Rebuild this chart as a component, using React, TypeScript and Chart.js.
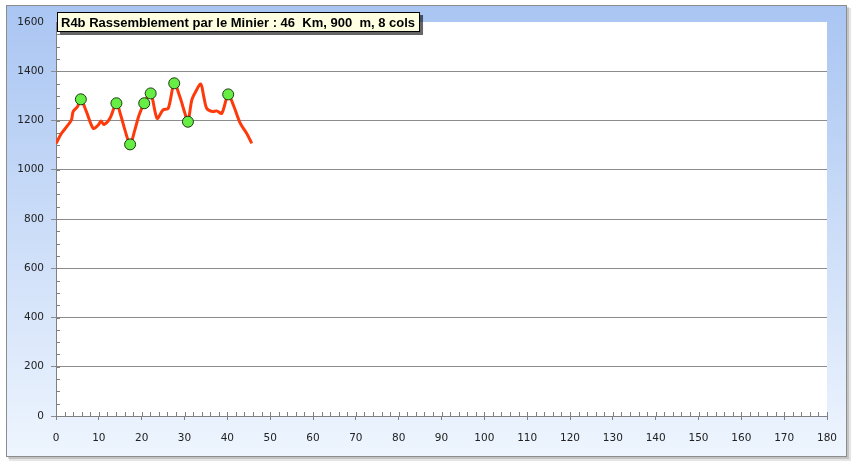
import React, { useEffect, useRef } from "react";
import { Chart, registerables } from "chart.js";
Chart.register(...registerables);

const W = 856;
const H = 467;

const titleText = "R4b Rassemblement par le Minier : 46  Km, 900  m, 8 cols";

const distances = [0, 1.3, 2.5, 3.6, 4.0, 5.0, 5.8, 7.1, 8.7, 9.9, 10.5, 11.2, 12.6, 14.1, 15.2, 16.1, 17.3, 18.4, 19.4, 20.6, 22.1, 23.6, 25.0, 26.2, 27.6, 28.9, 30.1, 30.8, 31.7, 32.6, 33.8, 34.5, 35.2, 36.6, 37.5, 38.7, 40.2, 41.4, 43.0, 44.5, 45.7];
const elevations = [1107, 1148, 1175, 1202, 1236, 1256, 1286, 1236, 1168, 1182, 1198, 1184, 1209, 1270, 1216, 1161, 1103, 1161, 1222, 1270, 1310, 1209, 1243, 1249, 1351, 1297, 1229, 1195, 1283, 1317, 1348, 1297, 1249, 1236, 1239, 1229, 1306, 1263, 1189, 1148, 1107];

const colDistances = [5.8, 14.1, 17.3, 20.6, 22.1, 27.6, 30.8, 40.2];
const colElevations = [1286, 1270, 1103, 1270, 1310, 1351, 1195, 1306];

const xMin = 0, xMax = 180, xStep = 10, xMinorStep = 2;
const yMin = 0, yMax = 1600, yStep = 200, yMinorStep = 50;

export default function App() {
  const ref = useRef<HTMLCanvasElement>(null);
  useEffect(() => {
    const canvas = ref.current;
    if (!canvas) return;

    const decor = {
      id: "decor",
      beforeDraw(chart: any) {
        const { ctx, chartArea: a } = chart;
        ctx.save();
        ctx.fillStyle = "#ffffff";
        ctx.fillRect(0, 0, W, H);
        ctx.fillStyle = "rgba(0,0,0,0.10)";
        ctx.fillRect(9, 8, 842, 453);
        ctx.fillStyle = "rgba(0,0,0,0.15)";
        ctx.fillRect(8, 7, 841, 452);
        const g = ctx.createLinearGradient(0, 5, 0, 457);
        g.addColorStop(0, "#a9c5f2");
        g.addColorStop(1, "#eef5fe");
        ctx.fillStyle = g;
        ctx.fillRect(6, 5, 841, 452);
        ctx.strokeStyle = "#8c8c8c";
        ctx.lineWidth = 1;
        ctx.strokeRect(6.5, 5.5, 840, 451);
        ctx.fillStyle = "#ffffff";
        ctx.fillRect(a.left, a.top, a.right - a.left, a.bottom - a.top);
        ctx.restore();
      },
      beforeDatasetsDraw(chart: any) {
        const { ctx, chartArea: a, scales } = chart;
        ctx.save();
        ctx.strokeStyle = "#808080";
        ctx.lineWidth = 1;
        ctx.beginPath();
        for (let v = yMin; v <= yMax; v += yMinorStep) {
          const y = Math.round(scales.y.getPixelForValue(v)) + 0.5;
          ctx.moveTo(a.left, y);
          ctx.lineTo(a.left + 4, y);
        }
        for (let v = xMin; v <= xMax; v += xMinorStep) {
          const x = Math.round(scales.x.getPixelForValue(v)) + 0.5;
          ctx.moveTo(x, a.bottom);
          ctx.lineTo(x, a.bottom - 4);
        }
        ctx.stroke();
        ctx.restore();
      },
      afterDraw(chart: any) {
        const { ctx } = chart;
        ctx.save();
        ctx.font = "bold 13px 'Liberation Sans', Arial, sans-serif";
        const tw = ctx.measureText(titleText).width;
        const bx = 57, by = 12, bw = tw + 9, bh = 20;
        ctx.fillStyle = "rgba(0,0,0,0.6)";
        ctx.fillRect(bx + 3, by + 3, bw, bh);
        ctx.fillStyle = "#ffffe1";
        ctx.fillRect(bx, by, bw, bh);
        ctx.strokeStyle = "#000000";
        ctx.lineWidth = 1;
        ctx.strokeRect(bx + 0.5, by + 0.5, bw - 1, bh - 1);
        ctx.fillStyle = "#000000";
        ctx.textBaseline = "middle";
        ctx.fillText(titleText, bx + 4, by + bh / 2 + 1);
        ctx.restore();
      },
    };

    const tickFont = { family: "'DejaVu Sans', Verdana, sans-serif", size: 10.5 };

    const chart = new Chart(canvas, {
      type: "scatter",
      data: {
        datasets: [
          {
            type: "scatter",
            data: colDistances.map((x, i) => ({ x, y: colElevations[i] })),
            pointRadius: 5.5,
            pointBackgroundColor: "#66ee44",
            pointBorderColor: "#1a3a10",
            pointBorderWidth: 1,
            showLine: false,
            order: 0,
          },
          {
            type: "line",
            data: distances.map((x, i) => ({ x, y: elevations[i] })),
            borderColor: "#ff3a0a",
            borderWidth: 3,
            pointRadius: 0,
            tension: 0.3,
            fill: false,
            order: 1,
          },
        ],
      } as any,
      options: {
        animation: false,
        responsive: false,
        events: [],
        layout: { padding: { left: 0, right: W - 827, top: 22, bottom: 0 } },
        plugins: { legend: { display: false }, tooltip: { enabled: false }, title: { display: false } },
        scales: {
          x: {
            type: "linear",
            min: xMin,
            max: xMax,
            afterFit: (s: any) => { s.height = H - 416; },
            ticks: {
              stepSize: xStep,
              color: "#222222",
              font: tickFont,
              padding: 12,
              maxRotation: 0,
              callback: (v: any) => String(v),
            },
            grid: { drawOnChartArea: false, tickLength: 4, color: "#808080" },
            border: { color: "#808080" },
          },
          y: {
            type: "linear",
            min: yMin,
            max: yMax,
            afterFit: (s: any) => { s.width = 56; },
            ticks: {
              stepSize: yStep,
              color: "#222222",
              font: tickFont,
              padding: 7,
              callback: (v: any) => String(v),
            },
            grid: {
              tickLength: 5,
              color: (c: any) => (c.tick && c.tick.value === yMax ? "rgba(0,0,0,0)" : "#8c8c8c"),
            },
            border: { color: "#808080" },
          },
        },
      },
      plugins: [decor],
    } as any);
    return () => chart.destroy();
  }, []);

  return (
    <div style={{ position: "absolute", left: 0, top: 0, width: W, height: H, background: "#fff" }}>
      <canvas ref={ref} width={W} height={H} style={{ display: "block", width: W, height: H }} />
    </div>
  );
}
